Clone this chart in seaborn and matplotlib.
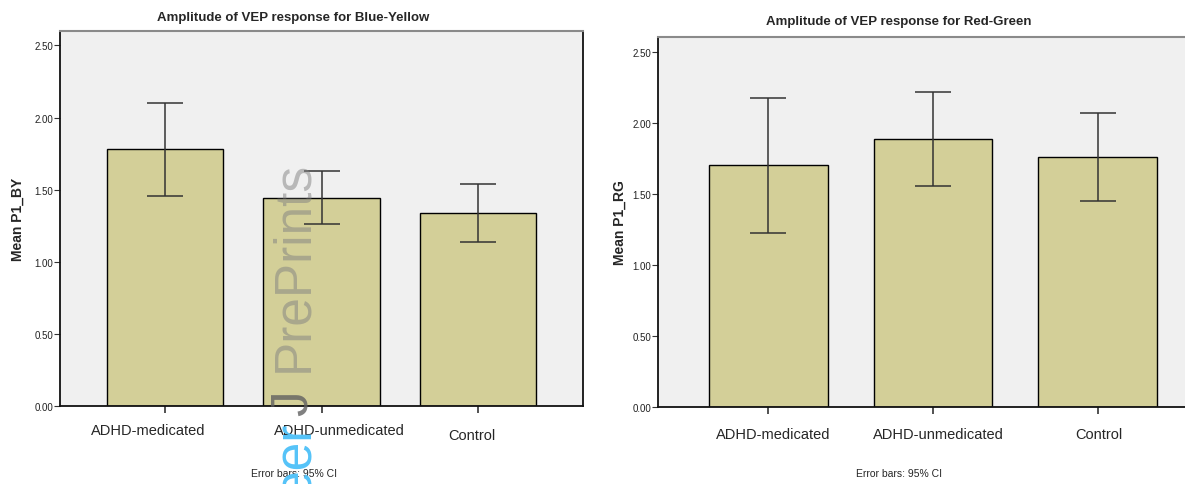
import numpy as np
import pandas as pd
import matplotlib
matplotlib.use('Agg')
import matplotlib.pyplot as plt
import matplotlib.transforms as mtransforms
import seaborn as sns

# Values (means and 95% CI limits)
groups = ['ADHD-medicated', 'ADHD-unmedicated', 'Control']

by_mean = [1.785, 1.444, 1.340]
by_ci_low = [1.458, 1.264, 1.139]
by_ci_high = [2.104, 1.632, 1.542]

rg_mean = [1.704, 1.887, 1.761]
rg_ci_low = [1.225, 1.556, 1.451]
rg_ci_high = [2.176, 2.218, 2.070]

y_ticks = [0.0, 0.5, 1.0, 1.5, 2.0, 2.5]

sns.set_style('white')
plt.rcParams['font.family'] = ['Liberation Sans', 'DejaVu Sans']

BAR_COLOR = '#D3CF98'
BG_COLOR = '#F0F0F0'

fig = plt.figure(figsize=(11.85, 4.85), dpi=100)
ax1 = fig.add_axes([60 / 1185, 78 / 485, 523 / 1185, 375 / 485])
ax2 = fig.add_axes([658 / 1185, 77 / 485, 550 / 1185, 370 / 485])


def draw_panel(ax, means, lo, hi, ylabel, width, ymax, label_x, label_shift):
    df = pd.DataFrame({'group': groups, 'value': means})
    sns.barplot(data=df, x='group', y='value', color=BAR_COLOR, width=width,
                edgecolor='black', linewidth=1.0, saturation=1, errorbar=None, ax=ax)
    means = np.array(means)
    yerr = [means - np.array(lo), np.array(hi) - means]
    ax.errorbar(np.arange(len(groups)), means, yerr=yerr, fmt='none',
                ecolor='#333333', elinewidth=1.1, capsize=13, capthick=1.1, zorder=5)
    ax.set_facecolor(BG_COLOR)
    ax.set_xlim(-0.67, len(groups) - 1 + 0.67)
    ax.set_ylim(0, ymax)
    ax.set_yticks(y_ticks)
    ax.set_yticklabels([f'{t:.2f}' for t in y_ticks], fontsize=7, color='#222222')
    ax.tick_params(axis='y', direction='out', length=4, width=0.8, pad=1,
                   left=True, color='#333333')
    ax.tick_params(axis='x', direction='out', length=5, width=1.2, pad=7,
                   bottom=True, labelsize=10.5, color='#333333')
    ax.set_xlabel('')
    ax.set_ylabel(ylabel, fontsize=10, fontweight='bold')
    ax.yaxis.set_label_coords(label_x, 0.5)
    for side in ['left', 'bottom', 'right']:
        ax.spines[side].set_color('#111111')
        ax.spines[side].set_linewidth(1.3)
    ax.spines['top'].set_color('#8a8a8a')
    ax.spines['top'].set_linewidth(1.5)
    for lab, (dx, dy) in zip(ax.get_xticklabels(), label_shift):
        lab.set_transform(lab.get_transform() +
                          mtransforms.ScaledTranslation(dx / 100, -dy / 100, fig.dpi_scale_trans))


draw_panel(ax1, by_mean, by_ci_low, by_ci_high, 'Mean P1_BY', 0.745, 2.60, -0.067,
           [(-17, 0), (18, 0), (-6, 5)])
draw_panel(ax2, rg_mean, rg_ci_low, rg_ci_high, 'Mean P1_RG', 0.72, 2.606, -0.056,
           [(5, 3), (5, 3), (1, 3)])

# Titles and footnotes as placed in the original SPSS output
fig.text(293 / 1185, 1 - 18 / 485, 'Amplitude of VEP response for Blue-Yellow',
         ha='center', va='center', fontsize=9.5, fontweight='bold')
fig.text(899 / 1185, 1 - 22 / 485, 'Amplitude of VEP response for Red-Green',
         ha='center', va='center', fontsize=9.5, fontweight='bold')
fig.text(294 / 1185, 1 - 474 / 485, 'Error bars: 95% CI', ha='center', va='center', fontsize=7.5)
fig.text(899 / 1185, 1 - 474 / 485, 'Error bars: 95% CI', ha='center', va='center', fontsize=7.5)

# PeerJ PrePrints watermark (runs bottom to top, baseline near x=307)
wm_kw = dict(rotation=90, rotation_mode='anchor', va='baseline', fontsize=37,
             family=['Liberation Sans', 'DejaVu Sans'], zorder=10)
base_x = 307 / 1185
fig.text(base_x, 1 - 372 / 485, 'PrePrints', ha='left', color='#808080', alpha=0.5, **wm_kw)
fig.text(base_x, 1 - 416 / 485, 'J', ha='left', color='#606060', alpha=0.8, **wm_kw)
fig.text(base_x, 1 - 420 / 485, 'Peer', ha='right', color='#55C3F8', **wm_kw)

fig.savefig('out.png', dpi=100)
